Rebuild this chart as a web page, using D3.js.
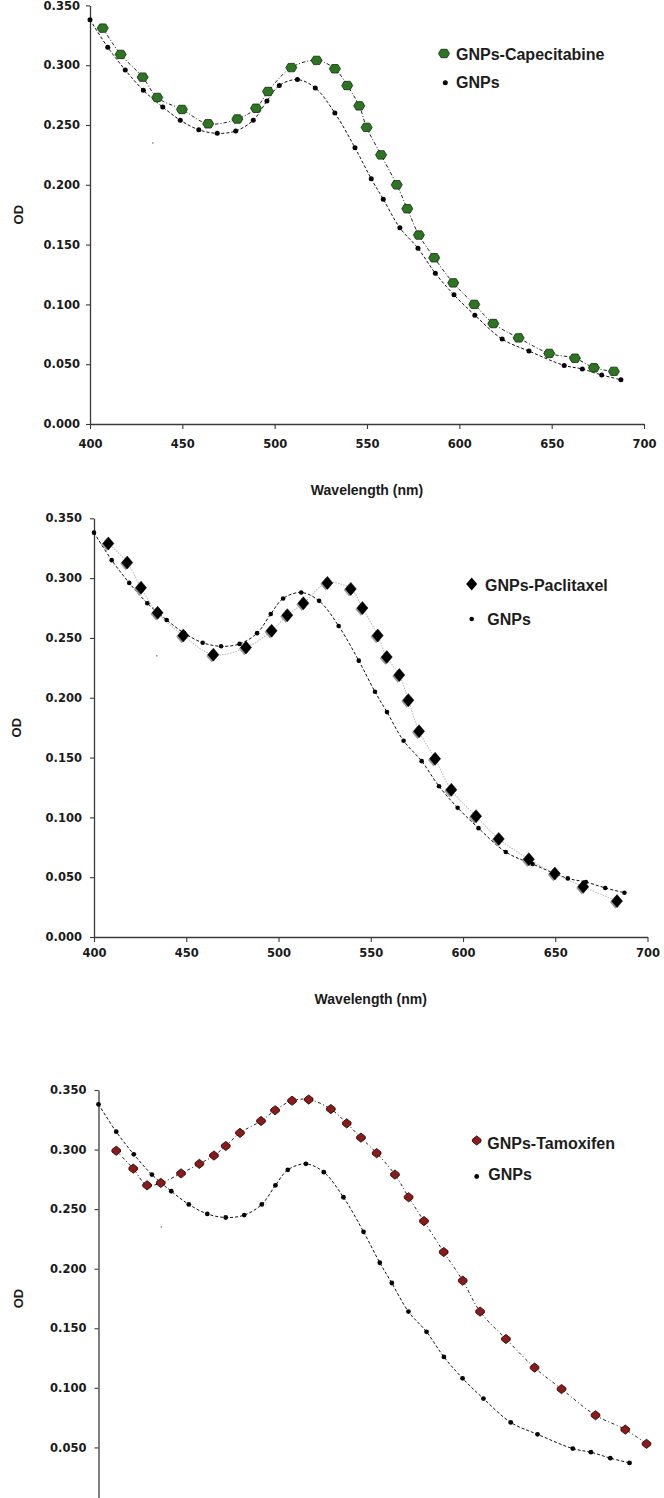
<!DOCTYPE html>
<html>
<head>
<meta charset="utf-8">
<script src="https://cdn.jsdelivr.net/npm/d3@7"></script>
<style>
  html, body { margin: 0; padding: 0; background: #ffffff; }
  svg { display: block; }
</style>
</head>
<body>
<svg id="chart" width="664" height="1498"></svg>
<script>
// ---------------- DATA ----------------
const xTicks = [400, 450, 500, 550, 600, 650, 700];
const yTicks = [0, 0.05, 0.10, 0.15, 0.20, 0.25, 0.30, 0.35];

// bare gold nanoparticles (same reference series in all three panels)
const gnpWavelength = [400, 409.6, 419.1, 428.9, 439.4, 448.9, 458.9, 468.9, 478.9, 488.4, 495.8, 502.5, 512.3, 522.0, 532.6, 543.5, 552.3, 558.8, 567.8, 577.6, 587.0, 597.1, 608.4, 623.2, 637.7, 656.8, 666.6, 677.1, 687.5];
const gnpOD         = [0.338, 0.315, 0.296, 0.279, 0.265, 0.254, 0.246, 0.243, 0.245, 0.254, 0.270, 0.283, 0.288, 0.281, 0.260, 0.231, 0.205, 0.188, 0.164, 0.147, 0.126, 0.108, 0.091, 0.071, 0.061, 0.049, 0.046, 0.041, 0.037];

// GNPs-Capecitabine
const capWavelength = [406.9, 416.6, 428.5, 436.4, 449.8, 464.0, 479.8, 489.9, 496.4, 509.0, 522.7, 532.6, 539.3, 545.8, 549.8, 557.6, 566.1, 571.8, 578.1, 586.4, 596.7, 608.1, 618.4, 632.1, 648.7, 662.6, 672.9, 683.7];
const capOD         = [0.331, 0.309, 0.290, 0.273, 0.263, 0.251, 0.255, 0.264, 0.278, 0.298, 0.304, 0.297, 0.283, 0.266, 0.248, 0.225, 0.200, 0.180, 0.158, 0.139, 0.118, 0.100, 0.084, 0.072, 0.059, 0.055, 0.047, 0.044];

// GNPs-Paclitaxel
const paxWavelength = [407.8, 418.0, 425.5, 434.5, 448.4, 464.7, 482.4, 496.3, 504.8, 513.5, 526.5, 539.2, 545.5, 553.8, 558.7, 565.5, 570.4, 576.2, 584.9, 593.7, 607.1, 619.4, 635.7, 649.8, 665.2, 683.5];
const paxOD         = [0.329, 0.313, 0.292, 0.271, 0.252, 0.236, 0.242, 0.256, 0.269, 0.279, 0.296, 0.291, 0.275, 0.252, 0.234, 0.219, 0.198, 0.172, 0.149, 0.123, 0.101, 0.082, 0.065, 0.053, 0.042, 0.030];

// GNPs-Tamoxifen
const tamWavelength = [409.6, 418.8, 426.3, 433.7, 444.7, 454.6, 462.5, 468.9, 476.6, 488.0, 495.6, 504.8, 513.8, 525.8, 534.4, 542.1, 550.6, 560.5, 567.9, 576.2, 586.9, 597.2, 606.6, 620.6, 636.1, 650.7, 669.1, 685.2, 696.7];
const tamOD         = [0.299, 0.284, 0.270, 0.272, 0.280, 0.288, 0.295, 0.303, 0.314, 0.324, 0.333, 0.341, 0.342, 0.334, 0.322, 0.310, 0.297, 0.279, 0.260, 0.240, 0.214, 0.190, 0.164, 0.141, 0.117, 0.099, 0.077, 0.065, 0.053];

// a faint stray point present in the original plots
const strayWavelength = [434];
const strayOD = [0.235];

const legendLabels = {
  cap: ["GNPs-Capecitabine", "GNPs"],
  pax: ["GNPs-Paclitaxel", "GNPs"],
  tam: ["GNPs-Tamoxifen", "GNPs"]
};
const xTitle = "Wavelength (nm)";
const yTitle = "OD";

// ---------------- DRAWING ----------------
const zip = (xs, ys) => xs.map((x, i) => ({ x: x, y: ys[i] }));
const gnp = zip(gnpWavelength, gnpOD);
const stray = zip(strayWavelength, strayOD);

const svg = d3.select("#chart");
const TICK_FONT = "'DejaVu Sans', Verdana, sans-serif";
const TEXT_FONT = "'Liberation Sans', Arial, sans-serif";

const shapes = {
  cap: "M-5.5,0 L-3,-4.2 L3,-4.2 L5.5,0 L3,4.2 L-3,4.2 Z",
  pax: "M0,-6.5 L5.5,0 L0,6.5 L-5.5,0 Z",
  tam: "M0,-4.6 L4.3,-1.2 L4.3,1.2 L0,4.6 L-4.3,1.2 L-4.3,-1.2 Z"
};

const styles = {
  cap: { fill: "#2e7424", stroke: "#173a12", sw: 0.9, line: "#222", dash: "3.5,2,1,2", lw: 1.0 },
  pax: { fill: "#000000", stroke: "#000000", sw: 0.5, line: "#bdbdbd", dash: "1.5,1.2", lw: 1.1 },
  tam: { fill: "#8a1b1b", stroke: "#2d0707", sw: 0.9, line: "#222", dash: "3,2.5,1,2.5", lw: 1.0 }
};

function drawPanel(cfg) {
  const g = svg.append("g");
  const x = d3.scaleLinear().domain([400, 700]).range(cfg.xRange);
  const y = d3.scaleLinear().domain([0, 0.35]).range(cfg.yRange);
  const st = styles[cfg.kind];
  const treated = zip(cfg.wl, cfg.od);

  // y axis (only the ticks that fall inside the page)
  const yAxis = g.append("g")
    .attr("transform", `translate(${cfg.xRange[0]},0)`)
    .call(d3.axisLeft(y).tickValues(yTicks.filter(v => y(v) < 1490)).tickSize(4).tickSizeOuter(0)
      .tickPadding(cfg.yPad).tickFormat(d3.format(".3f")));
  const axes = [yAxis];
  if (cfg.showX) {
    const xAxis = g.append("g")
      .attr("transform", `translate(0,${cfg.yRange[0]})`)
      .call(d3.axisBottom(x).tickValues(xTicks).tickSize(5).tickSizeOuter(0)
        .tickPadding(cfg.xPad).tickFormat(d3.format("d")));
    axes.push(xAxis);
    g.append("text")
      .attr("x", (cfg.xRange[0] + cfg.xRange[1]) / 2)
      .attr("y", cfg.wlY)
      .attr("text-anchor", "middle")
      .attr("dy", "0.35em")
      .style("font-family", TEXT_FONT).style("font-weight", "bold").style("font-size", "14px")
      .attr("fill", "#1a1a1a")
      .text(xTitle);
  }
  axes.forEach(a => {
    a.select(".domain").attr("stroke", "#3a3a3a").attr("stroke-width", 1.3);
    a.selectAll(".tick line").attr("stroke", "#3a3a3a").attr("stroke-width", 1.1);
    a.selectAll(".tick text")
      .attr("fill", "#1a1a1a")
      .style("font-family", TICK_FONT)
      .style("font-weight", "bold")
      .style("font-size", "11.5px");
  });

  // y title
  g.append("text")
    .attr("transform", `translate(${cfg.odX},${(cfg.yRange[0] + cfg.yRange[1]) / 2}) rotate(-90)`)
    .attr("text-anchor", "middle")
    .attr("dy", "0.35em")
    .style("font-family", TEXT_FONT).style("font-weight", "bold").style("font-size", "13px")
    .attr("fill", "#1a1a1a")
    .text(yTitle);

  const line = d3.line().x(d => x(d.x)).y(d => y(d.y)).curve(d3.curveCatmullRom.alpha(0.5));

  // stray point
  g.selectAll(".stray").data(stray).join("rect")
    .attr("x", d => x(d.x) - 0.8).attr("y", d => y(d.y) - 0.6)
    .attr("width", 1.6).attr("height", 1.2).attr("fill", "#777");

  // lines
  g.append("path").datum(gnp).attr("d", line)
    .attr("fill", "none").attr("stroke", "#111").attr("stroke-width", 1.0)
    .attr("stroke-dasharray", "3,2");
  g.append("path").datum(treated).attr("d", line)
    .attr("fill", "none").attr("stroke", st.line).attr("stroke-width", st.lw)
    .attr("stroke-dasharray", st.dash);

  // treated markers
  if (cfg.kind === "pax") {
    g.selectAll(".shadow").data(treated).join("path")
      .attr("d", shapes.pax)
      .attr("transform", d => `translate(${x(d.x) - 1.6},${y(d.y) + 1.2})`)
      .attr("fill", "#9a9a9a");
  }
  g.selectAll(".mk").data(treated).join("path")
    .attr("d", shapes[cfg.kind])
    .attr("transform", d => `translate(${x(d.x)},${y(d.y)})`)
    .attr("fill", st.fill).attr("stroke", st.stroke).attr("stroke-width", st.sw)
    .attr("stroke-linejoin", "round");

  // GNP dots
  g.selectAll(".dot").data(gnp).join("circle")
    .attr("cx", d => x(d.x)).attr("cy", d => y(d.y)).attr("r", cfg.dotR)
    .attr("fill", "#050505");

  // legend
  const L = cfg.legend;
  if (cfg.kind === "pax") {
    g.append("path").attr("d", shapes.pax)
      .attr("transform", `translate(${L.m1[0]},${L.m1[1]})`).attr("fill", "#000");
  } else {
    g.append("path").attr("d", shapes[cfg.kind])
      .attr("transform", `translate(${L.m1[0]},${L.m1[1]})`)
      .attr("fill", st.fill).attr("stroke", st.stroke).attr("stroke-width", st.sw)
      .attr("stroke-linejoin", "round");
  }
  g.append("circle").attr("cx", L.m2[0]).attr("cy", L.m2[1]).attr("r", cfg.dotR).attr("fill", "#050505");
  const labels = legendLabels[cfg.kind];
  [L.t1, L.t2].forEach((p, i) => {
    g.append("text").attr("x", p[0]).attr("y", p[1])
      .style("font-family", TEXT_FONT).style("font-weight", "bold").style("font-size", "16px")
      .attr("fill", "#1c1c1c")
      .text(labels[i]);
  });
}

drawPanel({
  kind: "cap", wl: capWavelength, od: capOD, showX: true,
  xRange: [90, 644], yRange: [424, 5.4],
  yPad: 6, xPad: 10.5, odX: 18, wlY: 490, dotR: 2.5,
  legend: { m1: [444, 53.5], m2: [445.3, 82.7], t1: [456, 59.6], t2: [456, 87.5] }
});

drawPanel({
  kind: "pax", wl: paxWavelength, od: paxOD, showX: true,
  xRange: [94, 647.5], yRange: [937, 518.3],
  yPad: 8, xPad: 6.5, odX: 16, wlY: 999, dotR: 2.3,
  legend: { m1: [471.7, 584], m2: [471.7, 619], t1: [485, 590.8], t2: [487.3, 625] }
});

drawPanel({
  kind: "tam", wl: tamWavelength, od: tamOD, showX: false,
  xRange: [98.5, 652.6], yRange: [1507, 1090],
  yPad: 8, xPad: 6.5, odX: 18, wlY: 1570, dotR: 2.4,
  legend: { m1: [476.7, 1140.5], m2: [476.7, 1176.5], t1: [487.3, 1148.7], t2: [488.3, 1179.7] }
});
</script>
</body>
</html>
